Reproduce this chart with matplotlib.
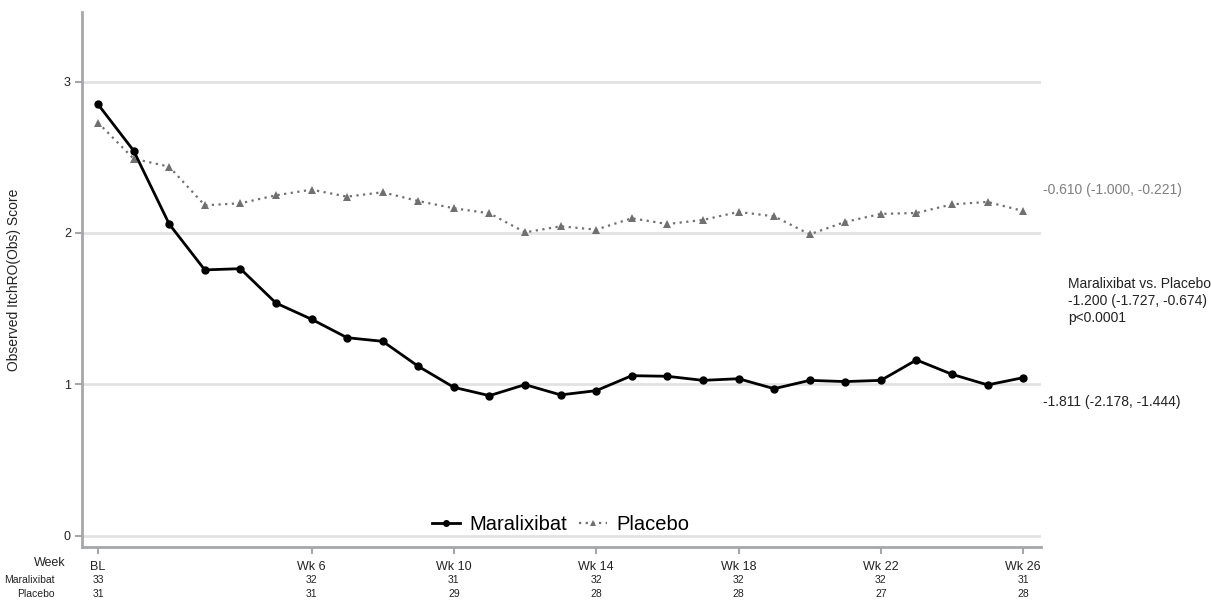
import matplotlib
matplotlib.use("Agg")
import matplotlib.pyplot as plt
from matplotlib.lines import Line2D

plt.rcParams['font.family'] = ['Liberation Sans', 'DejaVu Sans']

# Visit weeks (0 = baseline)
weeks = list(range(0, 27))

maralixibat = [2.850, 2.544, 2.059, 1.756, 1.764, 1.537, 1.430, 1.308, 1.284, 1.119,
               0.980, 0.925, 0.998, 0.930, 0.958, 1.057, 1.053, 1.026, 1.037, 0.971,
               1.026, 1.018, 1.026, 1.161, 1.066, 0.996, 1.044]
placebo = [2.729, 2.491, 2.438, 2.183, 2.196, 2.249, 2.286, 2.240, 2.269, 2.211,
           2.163, 2.130, 2.004, 2.044, 2.022, 2.097, 2.059, 2.086, 2.139, 2.110,
           1.991, 2.073, 2.126, 2.132, 2.189, 2.205, 2.145]

tick_weeks = [0, 6, 10, 14, 18, 22, 26]
tick_labels = ["BL", "Wk 6", "Wk 10", "Wk 14", "Wk 18", "Wk 22", "Wk 26"]
n_maralixibat = [33, 32, 31, 32, 32, 32, 31]
n_placebo = [31, 31, 29, 28, 28, 27, 28]

W, H = 1211, 602
fig = plt.figure(figsize=(W / 100, H / 100), dpi=100)
ax = fig.add_axes([82 / W, 55 / H, (1041 - 82) / W, (547 - 12) / H])

spine_col = "#a3a7ab"
grid_col = "#e2e2e2"
text_col = "#222222"

for y in [0, 1, 2, 3]:
    ax.axhline(y, color=grid_col, lw=2, zorder=0)

ax.plot(weeks, placebo, color="#707070", lw=1.6, ls=(0, (1, 2)),
        marker="^", markersize=6, markeredgewidth=0, label="Placebo", zorder=2)
ax.plot(weeks, maralixibat, color="black", lw=2, marker="o", markersize=5,
        label="Maralixibat", zorder=3)

ax.set_xlim(-0.45, 26.5)
ax.set_ylim(-0.075, 3.46)
ax.set_yticks([0, 1, 2, 3])
ax.set_yticklabels(["0", "1", "2", "3"], fontsize=9)
ax.set_xticks(tick_weeks)
ax.set_xticklabels(tick_labels, fontsize=9)
ax.tick_params(axis="both", colors=spine_col, width=1.5, length=5, labelcolor=text_col)
ax.tick_params(axis="x", pad=5)
ax.tick_params(axis="y", pad=3)

for side in ["top", "right"]:
    ax.spines[side].set_visible(False)
for side in ["left", "bottom"]:
    ax.spines[side].set_color(spine_col)
    ax.spines[side].set_linewidth(2)

ax.set_ylabel("Observed ItchRO(Obs) Score", fontsize=10, color=text_col)
ax.yaxis.set_label_coords((21 - 82) / (1041 - 82), 0.5)

# Legend
handles = [
    Line2D([0], [0], color="black", lw=2, marker="o", markersize=4),
    Line2D([0], [0], color="#707070", lw=1.6, ls=(0, (1, 2)), marker="^",
           markersize=4, markeredgewidth=0),
]
ax.legend(handles, ["Maralixibat", "Placebo"], loc="center",
          bbox_to_anchor=((561 - 82) / (1041 - 82), (547 - 525) / 535),
          ncol=2, frameon=False, fontsize=14.5, handlelength=1.35,
          handletextpad=0.5, columnspacing=0.6, borderpad=0, borderaxespad=0)

# Number-at-risk table under the x axis
trans = ax.get_xaxis_transform()
for x, nm, npb in zip(tick_weeks, n_maralixibat, n_placebo):
    ax.text(x, (547 - 580) / 535, str(nm), transform=trans, ha="center",
            va="center", fontsize=7.5, color=text_col)
    ax.text(x, (547 - 594) / 535, str(npb), transform=trans, ha="center",
            va="center", fontsize=7.5, color=text_col)

fig.text(66 / W, 1 - 563 / H, "Week", ha="right", va="center", fontsize=9, color=text_col)
fig.text(55 / W, 1 - 580 / H, "Maralixibat", ha="right", va="center", fontsize=7.5, color=text_col)
fig.text(55 / W, 1 - 594 / H, "Placebo", ha="right", va="center", fontsize=7.5, color=text_col)

# Change-from-baseline estimates
fig.text(1043 / W, 1 - 190 / H, "-0.610 (-1.000, -0.221)", ha="left", va="center",
         fontsize=10, color="#7f7f7f")
fig.text(1068 / W, 1 - 301 / H,
         "Maralixibat vs. Placebo\n-1.200 (-1.727, -0.674)\np<0.0001",
         ha="left", va="center", fontsize=10, color=text_col, linespacing=1.3)
fig.text(1043 / W, 1 - 402 / H, "-1.811 (-2.178, -1.444)", ha="left", va="center",
         fontsize=10, color=text_col)

fig.savefig("out.png", dpi=100)
